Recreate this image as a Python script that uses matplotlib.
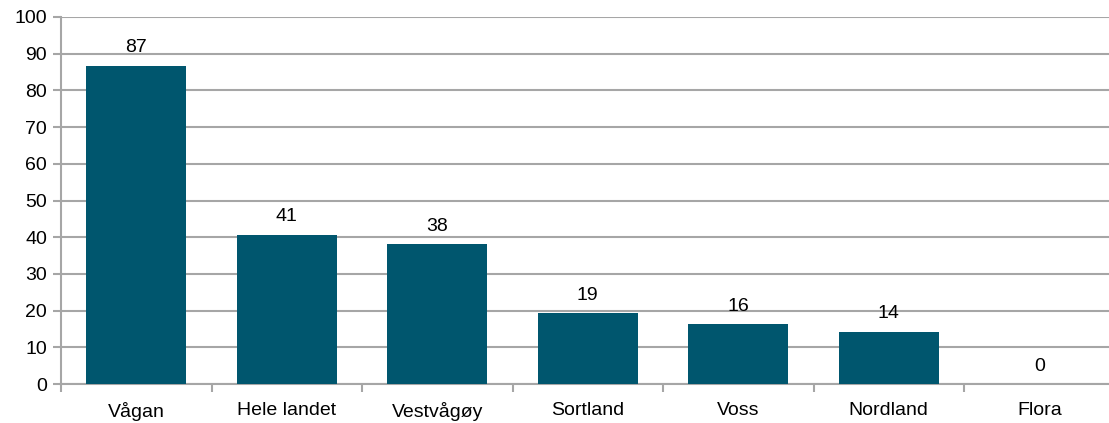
import numpy as np
from matplotlib import pyplot as plt

plt.rcParams['font.family'] = ['Liberation Sans', 'DejaVu Sans']

categories = ["Vågan", "Hele landet", "Vestvågøy", "Sortland", "Voss", "Nordland", "Flora"]
values = [86.7, 40.7, 38.1, 19.3, 16.3, 14.2, 0.0]
labels = ["87", "41", "38", "19", "16", "14", "0"]

BAR_COLOR = "#00566e"
GRID_COLOR = "#a6a6a6"
FS = 14

fig = plt.figure(figsize=(11.09, 4.23), dpi=100)
# plot area runs a little past the right edge of the picture, as in the original
ax = fig.add_axes([0.055, 0.092, 0.95, 0.868])

x = np.arange(len(categories))
ax.bar(x, values, width=0.665, color=BAR_COLOR, zorder=3)

for xi, v, lab in zip(x, values, labels):
    ax.text(xi, v + 2.6, lab, ha="center", va="bottom", fontsize=FS, color="#000000")

ax.set_xlim(-0.5, len(categories) - 0.5)
ax.set_ylim(0, 100)
ax.set_yticks(np.arange(0, 101, 10))
ax.yaxis.grid(True, color=GRID_COLOR, linewidth=1.5, zorder=0)
ax.set_axisbelow(True)

ax.set_xticks(x)
ax.set_xticklabels(categories, fontsize=FS)
ax.tick_params(axis="x", length=0, pad=13)
ax.set_xticks(np.arange(-0.5, len(categories), 1), minor=True)
ax.tick_params(axis="x", which="minor", length=6, color=GRID_COLOR, width=1.5)
ax.tick_params(axis="y", length=6, color=GRID_COLOR, width=1.5, labelsize=FS, pad=4)

for side in ["top", "right"]:
    ax.spines[side].set_visible(False)
for side in ["left", "bottom"]:
    ax.spines[side].set_color(GRID_COLOR)
    ax.spines[side].set_linewidth(1.5)

fig.savefig("out.png", dpi=100)
